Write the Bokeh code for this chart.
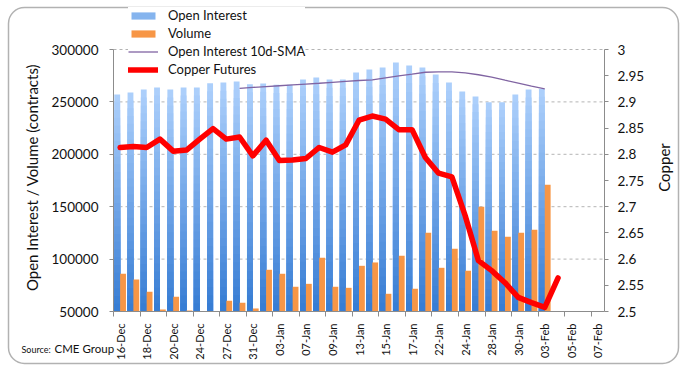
import math
import numpy as np
from bokeh.plotting import figure
from bokeh.models import (Range1d, LinearAxis, FixedTicker, Legend, LegendItem,
                          Label, BoxAnnotation, BasicTickFormatter)
from bokeh.embed import file_html
from bokeh.resources import INLINE

# ---------------- data ----------------
dates = ["16-Dec", "17-Dec", "18-Dec", "19-Dec", "20-Dec", "23-Dec", "24-Dec", "26-Dec",
         "27-Dec", "30-Dec", "31-Dec", "02-Jan", "03-Jan", "06-Jan", "07-Jan", "08-Jan",
         "09-Jan", "10-Jan", "13-Jan", "14-Jan", "15-Jan", "16-Jan", "17-Jan", "21-Jan",
         "22-Jan", "23-Jan", "24-Jan", "27-Jan", "28-Jan", "29-Jan", "30-Jan", "31-Jan",
         "03-Feb", "04-Feb", "05-Feb", "06-Feb", "07-Feb"]

open_interest = [257000, 258900, 261800, 263700, 261800, 263700, 263700, 267900,
                 268500, 269400, 266900, 267500, 266300, 266300, 271400, 273300,
                 271400, 271400, 278000, 280900, 282800, 287600, 284700, 282800,
                 276100, 268500, 259900, 255100, 249700, 249700, 257000, 261800,
                 262400]

volume = [86000, 80600, 68800, 51900, 64000, 51000, 45000, 45000,
          60200, 58300, 52900, 89800, 86000, 73600, 76400, 101300,
          73600, 72600, 93600, 96800, 66900, 103200, 71700, 125200,
          91700, 109900, 88900, 150000, 127100, 121300, 125200, 128000,
          171000]

sma_start = 9
sma_10d = [263000, 263800, 264600, 265400, 266200, 267000, 267800, 268700,
           269600, 270400, 271100, 273000, 274900, 276500, 278300, 278700,
           278600, 277700, 275900, 273600, 270700, 267900, 265000, 262400]

copper = [2.813, 2.815, 2.813, 2.829, 2.806, 2.808, 2.829, 2.849, 2.829, 2.833,
          2.797, 2.827, 2.788, 2.789, 2.792, 2.813, 2.804, 2.818, 2.865, 2.873,
          2.867, 2.847, 2.847, 2.794, 2.764, 2.757, 2.683, 2.597, 2.578, 2.555,
          2.527, 2.517, 2.508, 2.564]

left_ticks = [50000, 100000, 150000, 200000, 250000, 300000]
right_ticks = [2.5, 2.55, 2.6, 2.65, 2.7, 2.75, 2.8, 2.85, 2.9, 2.95, 3.0]
right_tick_labels = ["2.5", "2.55", "2.6", "2.65", "2.7", "2.75", "2.8", "2.85",
                     "2.9", "2.95", "3"]

# ---------------- layout constants (pixels) ----------------
FONT = "Lato"
W, H = 690, 375
FL, FR, FT, FB = 113, 604, 49, 311          # data area inside the canvas
AXIS_GREY = "#8c8c8c"
GRID_GREY = "#b4b4b4"

n = len(dates)
xpp = n / (FR - FL)                                   # x units per pixel
lpp = (left_ticks[-1] - left_ticks[0]) / (FB - FT)    # left units per pixel
rpp = (right_ticks[-1] - right_ticks[0]) / (FB - FT)  # right units per pixel

x_range = Range1d(-FL * xpp, n + (W - FR) * xpp)
y_range = Range1d(left_ticks[0] - (H - FB) * lpp, left_ticks[-1] + FT * lpp)
cu_range = Range1d(right_ticks[0] - (H - FB) * rpp, right_ticks[-1] + FT * rpp)

p = figure(width=W, height=H, output_backend="svg", toolbar_location=None,
           x_range=x_range, y_range=y_range,
           x_axis_location=None, y_axis_location=None,
           min_border=0, min_border_left=0, min_border_right=0,
           min_border_top=0, min_border_bottom=0)
p.extra_y_ranges = {"cu": cu_range}
p.outline_line_color = None
p.background_fill_color = "white"
p.border_fill_color = "white"
p.xgrid.visible = False
p.ygrid.visible = False

# ---------------- dashed horizontal grid ----------------
g_y = left_ticks[1:]
p.segment(x0=[0] * len(g_y), x1=[n] * len(g_y), y0=g_y, y1=g_y,
          line_color=GRID_GREY, line_dash="3 3", line_width=1)

# ---------------- bars ----------------
base = left_ticks[0]
oi = np.array(open_interest, dtype=float)
x_oi = np.arange(len(oi)) + 0.5 - 0.22
levels = 28
light = np.array([172, 207, 251])
dark = np.array([55, 125, 212])
oi_renderers = []
for k in range(levels):
    frac = 1 - k / levels
    t = k / (levels - 1)
    rgb = light * (1 - t) + dark * t
    col = "#%02x%02x%02x" % tuple(int(round(v)) for v in rgb)
    r = p.vbar(x=x_oi, width=0.44, bottom=base, top=base + (oi - base) * frac,
               fill_color=col, line_color=None)
    oi_renderers.append(r)

vol = np.array(volume, dtype=float)
x_vol = np.arange(len(vol)) + 0.5 + 0.22
vol_r = p.vbar(x=x_vol, width=0.44, bottom=base, top=np.maximum(vol, base),
               fill_color="#f79646", line_color=None)

# ---------------- lines ----------------
x_sma = np.arange(sma_start, sma_start + len(sma_10d)) + 0.5
sma_r = p.line(x=x_sma, y=sma_10d, line_color="#8064a2", line_width=1.3)

x_cu = np.arange(len(copper)) + 0.5
cu_r = p.line(x=x_cu, y=copper, y_range_name="cu", line_color="#ff0000",
              line_width=5.5, line_join="round", line_cap="round")

# ---------------- axes ----------------
yl = LinearAxis(fixed_location=0, bounds=(left_ticks[0], left_ticks[-1]),
                ticker=FixedTicker(ticks=left_ticks),
                formatter=BasicTickFormatter(use_scientific=False))
p.add_layout(yl, "left")

yr = LinearAxis(y_range_name="cu", fixed_location=n,
                bounds=(right_ticks[0], right_ticks[-1]),
                ticker=FixedTicker(ticks=right_ticks),
                major_label_overrides=dict(zip(right_ticks, right_tick_labels)))
p.add_layout(yr, "right")

for ax in (yl, yr):
    ax.axis_line_color = AXIS_GREY
    ax.major_tick_line_color = AXIS_GREY
    ax.major_tick_out = 4
    ax.major_tick_in = 0
    ax.minor_tick_line_color = None
    ax.major_label_text_font = FONT
    ax.major_label_text_font_size = "13.5px"
    ax.major_label_text_color = "#111111"
yl.major_label_standoff = 11
yr.major_label_standoff = 9

label_pos = [i + 0.5 for i in range(0, n, 2)]
xa = LinearAxis(fixed_location=left_ticks[0], bounds=(0, n),
                ticker=FixedTicker(ticks=label_pos, minor_ticks=list(range(0, n, 2))))
xa.major_label_overrides = {i + 0.5: dates[i] for i in range(0, n, 2)}
xa.major_label_orientation = math.pi / 2
xa.major_tick_line_color = None
xa.minor_tick_line_color = AXIS_GREY
xa.minor_tick_out = 5
xa.minor_tick_in = 0
xa.axis_line_color = AXIS_GREY
xa.major_label_text_font = FONT
xa.major_label_text_font_size = "11px"
xa.major_label_text_color = "#111111"
xa.major_label_standoff = 6
p.add_layout(xa, "below")

# ---------------- legend ----------------
legend = Legend(items=[
    LegendItem(label="Open Interest", renderers=[oi_renderers[9]]),
    LegendItem(label="Volume", renderers=[vol_r]),
    LegendItem(label="Open Interest 10d-SMA", renderers=[sma_r]),
    LegendItem(label="Copper Futures", renderers=[cu_r]),
], location=(128, 298), orientation="vertical")
legend.glyph_width = 30
legend.glyph_height = 9
legend.label_standoff = 10
legend.label_height = 13
legend.spacing = 2
legend.padding = 10
legend.margin = 0
legend.label_text_font = FONT
legend.label_text_font_size = "13px"
legend.label_text_color = "#111111"
legend.border_line_color = None
legend.background_fill_color = "white"
legend.background_fill_alpha = 1.0
p.add_layout(legend, "center")

# ---------------- free texts (canvas pixel positions) ----------------
def scr_label(text, cx, cy, size, **kw):
    return Label(x=cx, y=H - cy, x_units="screen", y_units="screen",
                 text=text, text_font=FONT, text_font_size=size,
                 text_color="#111111", **kw)

p.add_layout(scr_label("Open Interest / Volume (contracts)", 31, 177, "15px",
                       angle=math.pi / 2, text_align="center", text_baseline="middle"))
p.add_layout(scr_label("Copper", 663, 167, "15px", angle=math.pi / 2,
                       text_align="center", text_baseline="middle"))
p.add_layout(scr_label("Source:", 21, 349, "9px", text_align="left",
                       text_baseline="alphabetic"))
p.add_layout(scr_label("CME Group", 54, 348, "11.5px", text_align="left",
                       text_baseline="alphabetic"))

# rounded outer frame
p.add_layout(BoxAnnotation(left=8, right=678, top=H - 7, bottom=H - 363,
                           left_units="screen", right_units="screen",
                           top_units="screen", bottom_units="screen",
                           fill_color=None, fill_alpha=0,
                           line_color="black", line_width=1.5, border_radius=16))

open("out.html", "w").write(file_html(p, INLINE))
